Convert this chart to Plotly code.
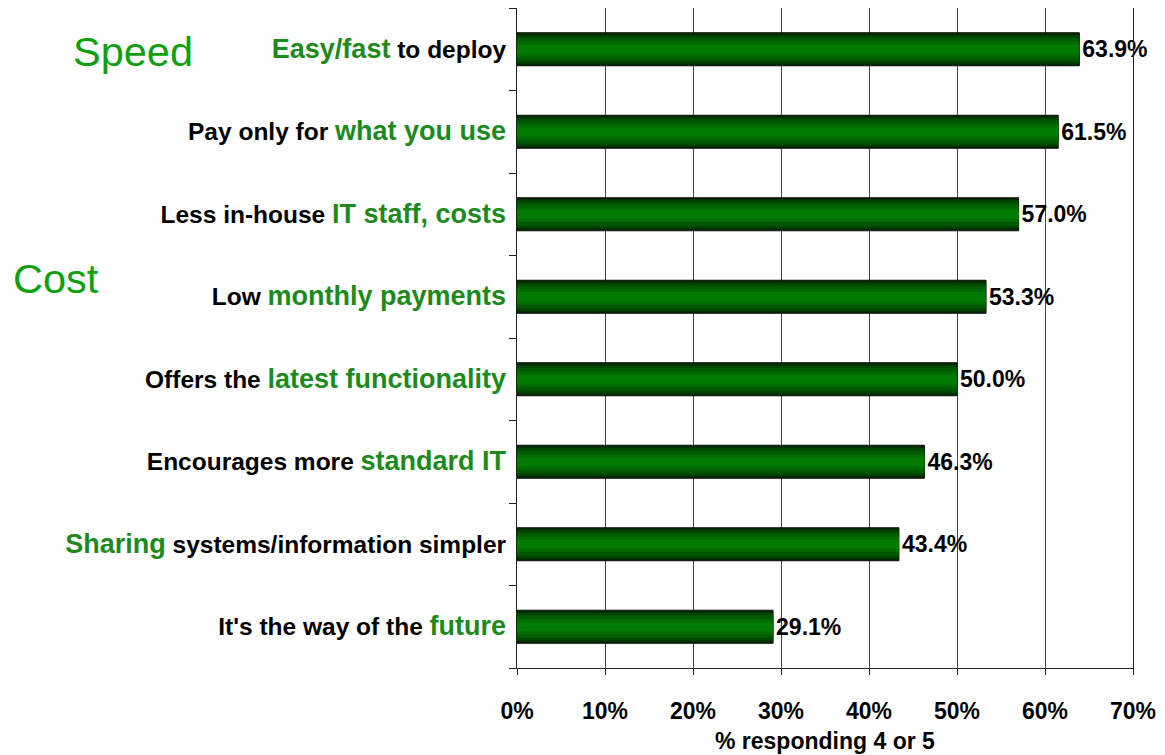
import plotly.graph_objects as go

# label parts: black prefix, green keyword, black suffix (top to bottom)
prefix = ["", "Pay only for ", "Less in-house ", "Low ", "Offers the ",
          "Encourages more ", "", "It's the way of the "]
keyword = ["Easy/fast", "what you use", "IT staff, costs", "monthly payments",
           "latest functionality", "standard IT", "Sharing", "future"]
suffix = [" to deploy", "", "", "", "", "", " systems/information simpler", ""]
pct = [63.9, 61.5, 57.0, 53.3, 50.0, 46.3, 43.4, 29.1]

x_ticks = [0, 10, 20, 30, 40, 50, 60, 70]

GREEN = "#1c8a1c"
FONT = "Arial, Liberation Sans, sans-serif"

labels = []
for p, k, s in zip(prefix, keyword, suffix):
    labels.append(f"<b>{p}<span style='color:{GREEN};font-size:27px'>{k}</span>{s}</b>")

pos = list(range(len(pct)))

fig = go.Figure()

# fake gradient: stacked overlay layers, dark outside -> bright centre
layers = [(0.40, "#002e00", 1), (0.34, "#004500", 0), (0.27, "#005a00", 0),
          (0.19, "#006b00", 0), (0.11, "#007a00", 0)]
for i, (w, c, lw) in enumerate(layers):
    fig.add_trace(go.Bar(
        x=pct, y=pos, orientation="h", width=w,
        marker=dict(color=c, line=dict(color="#0a0a0a", width=lw)),
        text=[f"<b>{v:.1f}%</b>" for v in pct] if i == 0 else None,
        textposition="outside" if i == 0 else "none",
        textfont=dict(size=23, color="black", family=FONT),
        cliponaxis=False, hoverinfo="skip", showlegend=False,
    ))

# page body has an 8px margin, so shrink the figure to fit the window
fig.update_layout(
    barmode="overlay",
    width=1157, height=747,
    margin=dict(l=509, r=32, t=0, b=87),
    paper_bgcolor="white", plot_bgcolor="white",
    font=dict(family=FONT, size=23, color="black"),
)

fig.update_xaxes(
    range=[0, 70], tickvals=x_ticks, ticktext=[f"<b>{t}%</b>" for t in x_ticks],
    tickfont=dict(size=23), ticks="outside", ticklen=6, tickcolor="#222",
    ticklabelstandoff=16,
    showgrid=True, gridcolor="#444", gridwidth=1,
    showline=True, linecolor="#222", linewidth=1, mirror=True,
    zeroline=False,
)

fig.update_yaxes(
    range=[7.5, -0.5], tickvals=pos, ticktext=labels, ticks="",
    tickfont=dict(size=24.5), ticklabelstandoff=5,
    showgrid=False, zeroline=False,
    showline=True, linecolor="#222", linewidth=1, mirror=True,
    minor=dict(tickvals=[i - 0.5 for i in range(len(pct) + 1)],
               ticks="outside", ticklen=7, tickcolor="#222", showgrid=False),
)

# axis title as an annotation so it can sit near the page edge without moving the plot
fig.add_annotation(text="<b>% responding 4 or 5</b>", xref="paper", yref="paper",
                   x=0.5, y=0, yshift=-73, xanchor="center", yanchor="middle",
                   showarrow=False, font=dict(size=23, color="black", family=FONT))

fig.add_annotation(text="Speed", xref="paper", yref="paper", x=-0.724, y=0.934,
                   xanchor="left", yanchor="middle", showarrow=False,
                   font=dict(size=41.5, color="#0ea00e", family=FONT))
fig.add_annotation(text="Cost", xref="paper", yref="paper", x=-0.822, y=0.59,
                   xanchor="left", yanchor="middle", showarrow=False,
                   font=dict(size=41.5, color="#0ea00e", family=FONT))

fig.write_html("out.html")
